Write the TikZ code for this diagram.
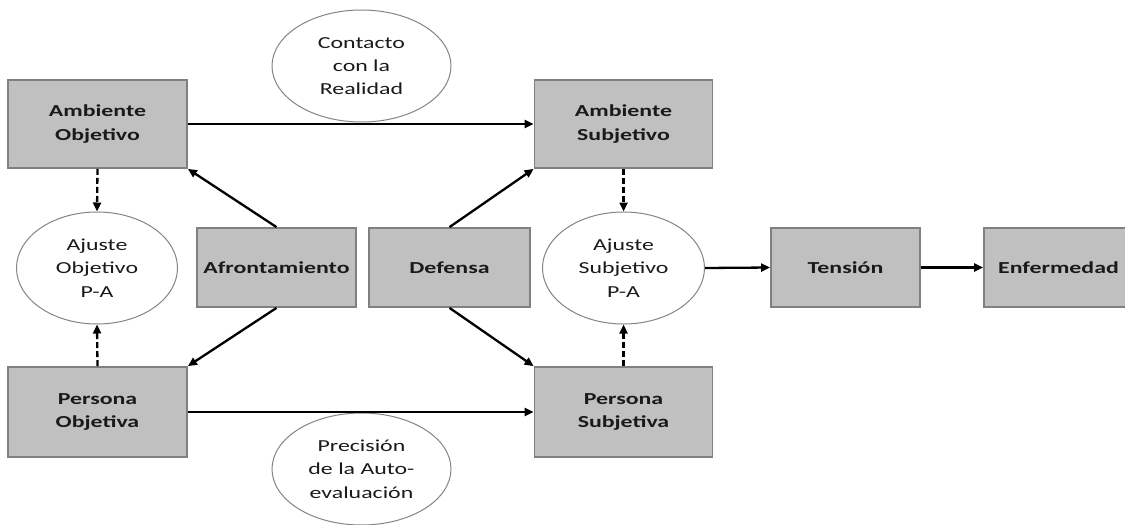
\documentclass[tikz,border=0pt]{standalone}
\usepackage{fontspec}
\setmainfont{Carlito}[FakeStretch=1.42]
\usetikzlibrary{arrows.meta,shapes.geometric}
\definecolor{boxfill}{HTML}{C0C0C0}
\definecolor{boxline}{HTML}{808080}
\definecolor{ellline}{HTML}{858585}
\definecolor{txt}{HTML}{1A1A1A}
\begin{document}
\begin{tikzpicture}[x=1pt,y=-1pt,
  font=\fontsize{16.8}{23.3}\selectfont,
  sbox/.style={rectangle,draw=boxline,fill=boxfill,line width=1.8pt,
    align=center,text=txt,font=\fontsize{16.8}{23.3}\selectfont\bfseries,
    inner sep=0pt},
  sell/.style={ellipse,draw=ellline,fill=white,line width=1pt,align=center,
    text=txt,inner sep=0pt},
  arr/.style={line width=2.3pt,-{Triangle[length=9pt,width=8pt]}},
  darr/.style={line width=2.3pt,dash pattern=on 6pt off 3pt,-{Triangle[length=9pt,width=8pt]}}
]
\useasboundingbox[fill=white] (0,0) rectangle (1125,525);

\node[sbox,minimum width=179pt,minimum height=88pt] (AO) at (97.5,124) {Ambiente\\Objetivo};
\node[sbox,minimum width=178pt,minimum height=88pt] (AS) at (623.5,124) {Ambiente\\Subjetivo};
\node[sbox,minimum width=179pt,minimum height=90pt] (PO) at (97.5,412) {Persona\\Objetiva};
\node[sbox,minimum width=178pt,minimum height=90pt] (PS) at (623.5,412) {Persona\\Subjetiva};
\node[sbox,minimum width=159pt,minimum height=79pt] (AF) at (276.5,267.5) {Afrontamiento};
\node[sbox,minimum width=161pt,minimum height=79pt] (DF) at (449.5,267.5) {Defensa};
\node[sbox,minimum width=149pt,minimum height=79pt] (TE) at (845.5,267.5) {Tensión};
\node[sbox,minimum width=149pt,minimum height=79pt] (EN) at (1058.5,267.5) {Enfermedad};

\node[sell,minimum width=161pt,minimum height=112pt] (AJO) at (97,268) {Ajuste\\Objetivo\\P-A};
\node[sell,minimum width=162pt,minimum height=112pt] (AJS) at (623.5,268) {Ajuste\\Subjetivo\\P-A};
\node[sell,minimum width=179pt,minimum height=112pt] (CR) at (361.5,66) {Contacto\\con la\\Realidad};
\node[sell,minimum width=179pt,minimum height=112pt] (PA) at (361.5,469) {Precisión\\de la Auto-\\evaluación};

\draw[arr] (AO.east) -- (AS.west);
\draw[arr] (PO.east) -- (PS.west);
\draw[arr] (AJS.east) -- (TE.west);
\draw[arr] (TE.east) -- (EN.west);
\draw[arr] (AF.north) -- (AO.south east);
\draw[arr] (AF.south) -- (PO.north east);
\draw[arr] (DF.north) -- (AS.south west);
\draw[arr] (DF.south) -- (PS.north west);
\draw[darr] (AO.south) -- (AJO.north);
\draw[darr] (PO.north) -- (AJO.south);
\draw[darr] (AS.south) -- (AJS.north);
\draw[darr] (PS.north) -- (AJS.south);
\end{tikzpicture}
\end{document}
